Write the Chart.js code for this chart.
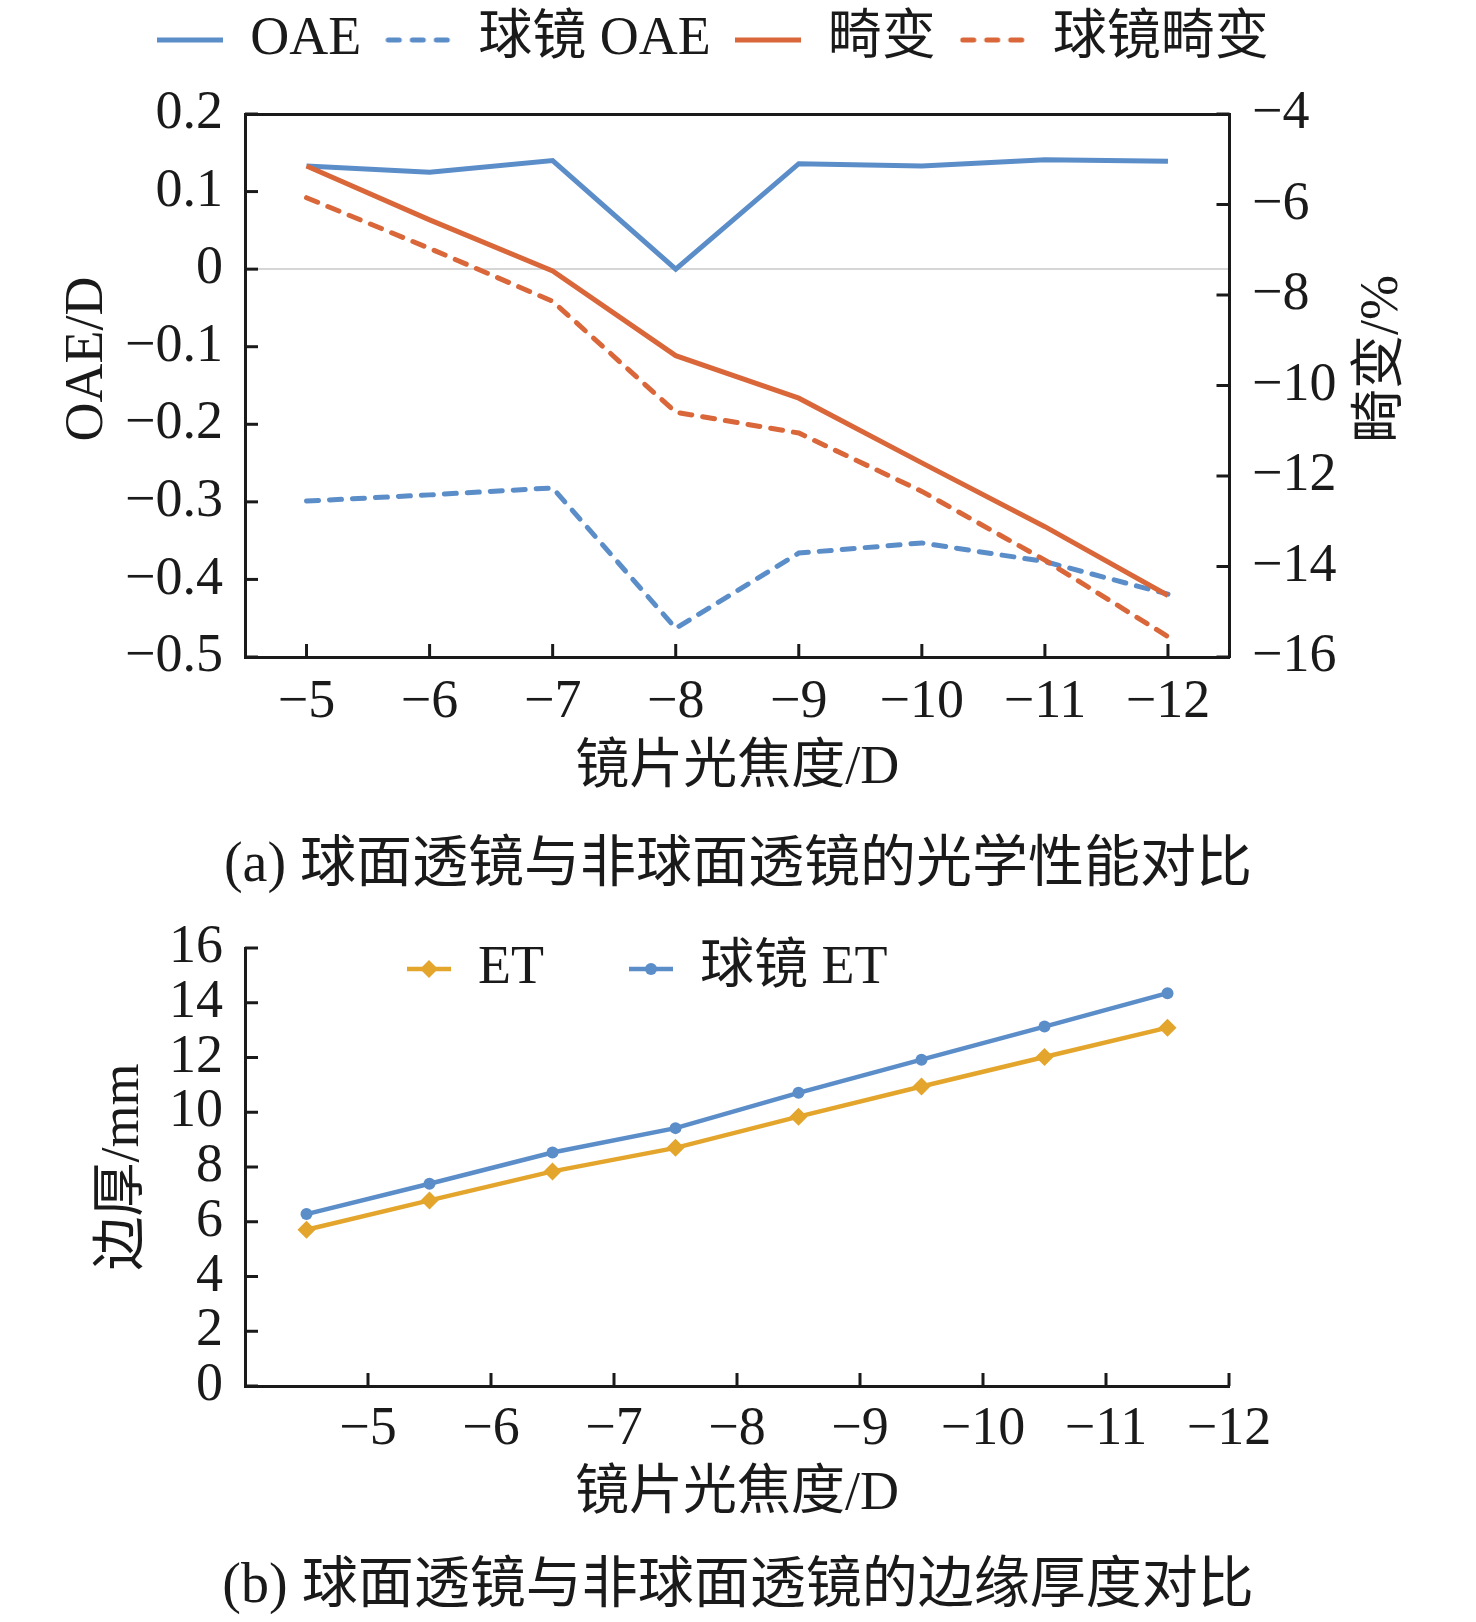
<!DOCTYPE html>
<html>
<head>
<meta charset="utf-8">
<script src="https://cdn.jsdelivr.net/npm/chart.js@4.4.1/dist/chart.umd.min.js"></script>
<style>
  body { margin: 0; background: #fff; width: 1476px; height: 1622px; position: relative; overflow: hidden; }
  canvas { position: absolute; left: 0; }
  #graficoA { top: 0; }
  #graficoB { top: 799px; }
  .legenda { position: absolute; left: 0; width: 1476px; text-align: center; font-family: 'Liberation Serif', 'Noto Sans CJK SC', serif; font-size: 56px; line-height: 58px; color: #1a1a1a; }
</style>
</head>
<body>
<div class="legenda" style="top:833px">(a) 球面透镜与非球面透镜的光学性能对比</div>
<div class="legenda" style="top:1554px">(b) 球面透镜与非球面透镜的边缘厚度对比</div>
<canvas id="graficoA" width="1476" height="800"></canvas>
<canvas id="graficoB" width="1476" height="741"></canvas>
<script>
// valores
var labelsEixoX = ['−5', '−6', '−7', '−8', '−9', '−10', '−11', '−12'];

var valoresOAE = [0.133, 0.125, 0.140, 0.000, 0.136, 0.133, 0.141, 0.139];
var valoresOAEEsferica = [-0.299, -0.291, -0.282, -0.463, -0.366, -0.353, -0.377, -0.419];
var valoresDistorcao = [-5.15, -6.34, -7.47, -9.34, -10.28, -11.71, -13.12, -14.64];
var valoresDistorcaoEsferica = [-5.85, -6.97, -8.14, -10.59, -11.05, -12.34, -13.86, -15.55];

var valoresET = [5.71, 6.78, 7.84, 8.70, 9.84, 10.94, 12.02, 13.09];
var valoresETEsferica = [6.28, 7.39, 8.53, 9.42, 10.71, 11.92, 13.13, 14.35];

var AZUL = '#5B8DC9', LARANJA = '#D9673A', OURO = '#E3A52C', PRETO = '#1a1a1a';
var TRACO = [12, 11];
var FONTE = "'Liberation Serif', 'Noto Sans CJK SC', serif";

Chart.defaults.font.family = FONTE;
Chart.defaults.font.size = 54;
Chart.defaults.color = PRETO;

function menos(v) {
	return (v < -1e-9 ? '−' : '') + Math.abs(v);
}

// marcas de escala para dentro da area do grafico + titulos laterais
var marcasInternas = {
	id: 'marcasInternas',
	afterDraw: function(chart, args, opts) {
		var ctx = chart.ctx;
		ctx.save();
		ctx.strokeStyle = PRETO;
		ctx.lineWidth = 3;
		(opts.eixos || []).forEach(function(id) {
			var s = chart.scales[id];
			var meio = 0;
			if (opts.entre && opts.entre.indexOf(id) >= 0) {
				meio = (s.getPixelForTick(1) - s.getPixelForTick(0)) / 2;
			}
			s.ticks.forEach(function(t, i) {
				var p = s.getPixelForTick(i) + meio;
				ctx.beginPath();
				if (s.position === 'left') { ctx.moveTo(s.right, p); ctx.lineTo(s.right + 13, p); }
				else if (s.position === 'right') { ctx.moveTo(s.left, p); ctx.lineTo(s.left - 13, p); }
				else { ctx.moveTo(p, s.top); ctx.lineTo(p, s.top - 13); }
				ctx.stroke();
			});
		});
		(opts.titulos || []).forEach(function(t) {
			ctx.save();
			ctx.translate(t.x, t.y);
			ctx.rotate(-Math.PI / 2);
			ctx.fillStyle = PRETO;
			ctx.font = '54px ' + FONTE;
			ctx.textAlign = 'center';
			ctx.textBaseline = 'middle';
			ctx.fillText(t.text, 0, 0);
			ctx.restore();
		});
		ctx.restore();
	}
};

// desloca a legenda depois do layout
var deslocaLegenda = {
	id: 'deslocaLegenda',
	afterLayout: function(chart, args, opts) {
		var l = chart.legend;
		if (!l) return;
		l.left += opts.dx || 0; l.right += opts.dx || 0;
		l.top += opts.dy || 0; l.bottom += opts.dy || 0;
	}
};

function eixoBorda() {
	return { display: true, color: PRETO, width: 3 };
}

// amostras da legenda (linha cheia / tracejada, com ou sem marcador)
function amostraLinha(cor, tracejada) {
	var c = document.createElement('canvas');
	c.width = 66; c.height = 12;
	var g = c.getContext('2d');
	g.strokeStyle = cor; g.lineWidth = 5;
	if (tracejada) { g.setLineDash([11, 13]); g.lineCap = 'round'; }
	g.beginPath();
	g.moveTo(tracejada ? 3 : 0, 6); g.lineTo(66, 6);
	g.stroke();
	return c;
}
function amostraMarcador(cor, estilo, raio) {
	var c = document.createElement('canvas');
	c.width = 44; c.height = 24;
	var g = c.getContext('2d');
	g.strokeStyle = cor; g.fillStyle = cor; g.lineWidth = 4.5;
	g.beginPath(); g.moveTo(0, 12); g.lineTo(44, 12); g.stroke();
	Chart.helpers.drawPoint(g, { pointStyle: estilo, radius: raio, borderWidth: 0, rotation: 0 }, 22, 12);
	return c;
}
var amostrasA = [amostraLinha(AZUL, false), amostraLinha(AZUL, true), amostraLinha(LARANJA, false), amostraLinha(LARANJA, true)];
var amostrasB = [amostraMarcador(OURO, 'rectRot', 9), amostraMarcador(AZUL, 'circle', 6)];

function labelsComAmostras(amostras) {
	return function(chart) {
		return Chart.defaults.plugins.legend.labels.generateLabels(chart).map(function(l) {
			l.pointStyle = amostras[l.datasetIndex];
			return l;
		}).sort(function(a, b) { return a.datasetIndex - b.datasetIndex; });
	};
}

// ---------- grafico (a) ----------
var graficoA = new Chart(document.getElementById('graficoA').getContext('2d'), {
	type: 'line',
	data: {
		labels: labelsEixoX,
		datasets: [
			{ label: 'OAE', data: valoresOAE, yAxisID: 'y', borderColor: AZUL, backgroundColor: AZUL, borderWidth: 5, pointRadius: 0, order: 2 },
			{ label: '球镜 OAE', data: valoresOAEEsferica, yAxisID: 'y', borderColor: AZUL, backgroundColor: AZUL, borderWidth: 5, borderDash: TRACO, borderCapStyle: 'round', pointRadius: 0, order: 3 },
			{ label: '畸变', data: valoresDistorcao, yAxisID: 'y1', borderColor: LARANJA, backgroundColor: LARANJA, borderWidth: 5, pointRadius: 0, order: 0 },
			{ label: '球镜畸变', data: valoresDistorcaoEsferica, yAxisID: 'y1', borderColor: LARANJA, backgroundColor: LARANJA, borderWidth: 5, borderDash: TRACO, borderCapStyle: 'round', pointRadius: 0, order: 1 }
		]
	},
	options: {
		responsive: false,
		animation: false,
		layout: { padding: 0 },
		plugins: {
			legend: {
				position: 'top',
				align: 'center',
				labels: {
					usePointStyle: true,
					pointStyleWidth: 66,
					padding: 24,
					font: { size: 54, lineHeight: 1 },
					generateLabels: labelsComAmostras(amostrasA)
				}
			},
			tooltip: { enabled: false },
			deslocaLegenda: { dx: -25, dy: -11 },
			marcasInternas: {
				eixos: ['y', 'y1', 'x'],
				titulos: [{ text: 'OAE/D', x: 88, y: 359 }, { text: '畸变/%', x: 1383, y: 359 }]
			}
		},
		scales: {
			x: {
				type: 'category',
				offset: true,
				grid: { display: false, drawTicks: false },
				border: eixoBorda(),
				ticks: { padding: 19, maxRotation: 0, autoSkip: false, font: { size: 54, lineHeight: 1 } },
				title: { display: true, text: '镜片光焦度/D', font: { size: 54, lineHeight: 1 }, padding: { top: 0, bottom: 4 } },
				afterFit: function(s) { s.height = 143; }
			},
			x2: {
				type: 'category',
				position: 'top',
				grid: { display: false, drawTicks: false },
				border: eixoBorda(),
				ticks: { display: false },
				afterFit: function(s) { s.height = 26; }
			},
			y: {
				position: 'left',
				min: -0.5, max: 0.2,
				ticks: {
					stepSize: 0.1, padding: 22, autoSkip: false,
					font: { size: 54, lineHeight: 1 },
					callback: function(v) { return Math.abs(v) < 1e-9 ? '0' : (v < 0 ? '−' : '') + Math.abs(v).toFixed(1); }
				},
				grid: {
					drawTicks: false,
					lineWidth: 2,
					color: function(c) { return c.tick && Math.abs(c.tick.value) < 1e-9 ? '#d6d6d6' : 'rgba(0,0,0,0)'; }
				},
				border: eixoBorda(),
				afterFit: function(s) { s.width = 245; }
			},
			y1: {
				position: 'right',
				min: -16, max: -4,
				ticks: { stepSize: 2, padding: 22.5, autoSkip: false, font: { size: 54, lineHeight: 1 }, callback: menos },
				grid: { display: false, drawTicks: false },
				border: eixoBorda(),
				afterFit: function(s) { s.width = 246.5; }
			}
		}
	},
	plugins: [marcasInternas, deslocaLegenda]
});

// ---------- grafico (b) ----------
var graficoB = new Chart(document.getElementById('graficoB').getContext('2d'), {
	type: 'line',
	data: {
		labels: labelsEixoX,
		datasets: [
			{ label: 'ET', data: valoresET, borderColor: OURO, backgroundColor: OURO, borderWidth: 4.5, pointStyle: 'rectRot', pointRadius: 9, pointBorderWidth: 0 },
			{ label: '球镜 ET', data: valoresETEsferica, borderColor: AZUL, backgroundColor: AZUL, borderWidth: 4.5, pointStyle: 'circle', pointRadius: 6, pointBorderWidth: 0 }
		]
	},
	options: {
		responsive: false,
		animation: false,
		layout: { padding: { top: 0, right: 247, left: 0, bottom: 0 } },
		plugins: {
			legend: {
				position: 'top',
				align: 'start',
				labels: {
					usePointStyle: true,
					pointStyleWidth: 44,
					padding: 85,
					font: { size: 54, lineHeight: 1 },
					generateLabels: labelsComAmostras(amostrasB)
				}
			},
			tooltip: { enabled: false },
			deslocaLegenda: { dx: 322, dy: 58 },
			marcasInternas: { eixos: ['y', 'x'], entre: ['x'] }
		},
		scales: {
			x: {
				type: 'category',
				offset: true,
				grid: { display: false, drawTicks: false, offset: true },
				border: eixoBorda(),
				ticks: { padding: 17, labelOffset: 61.5, maxRotation: 0, autoSkip: false, font: { size: 54, lineHeight: 1 } },
				title: { display: true, text: '镜片光焦度/D', font: { size: 54, lineHeight: 1 }, padding: { top: 0, bottom: 18 } },
				afterFit: function(s) { s.height = 154; }
			},
			y: {
				position: 'left',
				min: 0, max: 16,
				ticks: { stepSize: 2, padding: 22, autoSkip: false, font: { size: 54, lineHeight: 1 } },
				grid: { display: false, drawTicks: false },
				border: eixoBorda(),
				title: { display: true, text: '边厚/mm', font: { size: 54, lineHeight: 1 }, padding: { top: 97, bottom: 0 } },
				afterFit: function(s) { s.width = 245; }
			}
		}
	},
	plugins: [marcasInternas, deslocaLegenda]
});
</script>
</body>
</html>
